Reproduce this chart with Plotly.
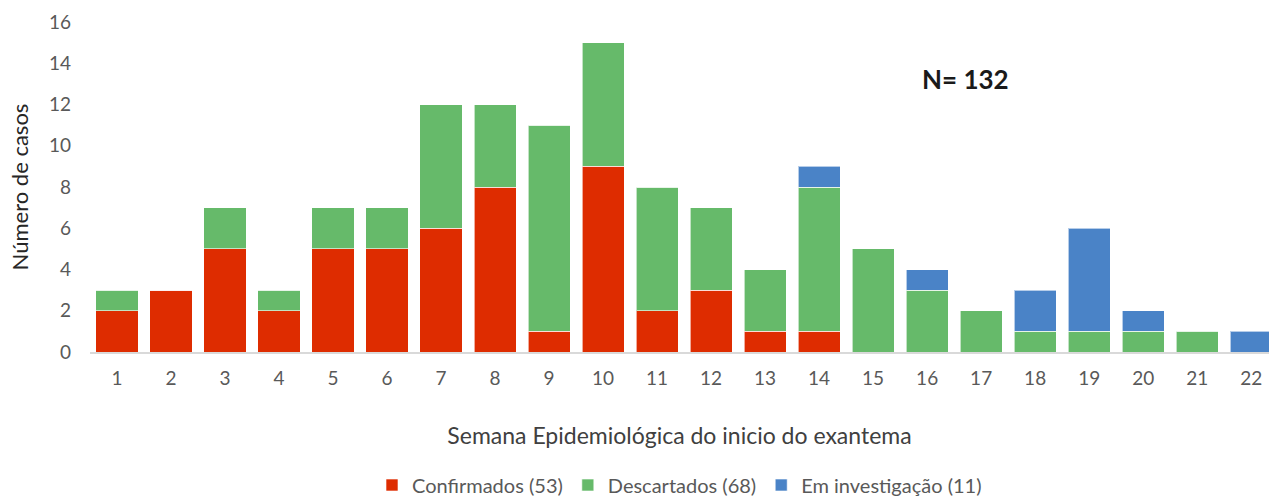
import plotly.graph_objects as go

semanas = [str(i) for i in range(1, 23)]
confirmados = [2, 3, 5, 2, 5, 5, 6, 8, 1, 9, 2, 3, 1, 1, 0, 0, 0, 0, 0, 0, 0, 0]
descartados = [1, 0, 2, 1, 2, 2, 6, 4, 10, 6, 6, 4, 3, 7, 5, 3, 2, 1, 1, 1, 1, 0]
investigacao = [0, 0, 0, 0, 0, 0, 0, 0, 0, 0, 0, 0, 0, 1, 0, 1, 0, 2, 5, 1, 0, 1]
nomes = ["Confirmados (53)", "Descartados (68)", "Em investigação (11)"]
cores = ["#DE2C00", "#66BA6A", "#4A83C7"]

font = "Lato, 'Open Sans', sans-serif"
fig = go.Figure()
for nome, vals, cor in zip(nomes, [confirmados, descartados, investigacao], cores):
    fig.add_trace(go.Bar(x=list(range(1, 23)), y=vals, name=nome, marker_color=cor,
                         marker_line=dict(color="rgba(255,255,255,0.6)", width=1)))

fig.update_layout(
    barmode="stack", bargap=0.22,
    width=1269, height=499,
    margin=dict(l=90, r=0, t=22, b=147, autoexpand=False),
    plot_bgcolor="white", paper_bgcolor="white",
    font=dict(family=font, size=19, color="#595959"),
    xaxis=dict(range=[0.5, 22.33], tickmode="array", tickvals=list(range(1, 23)), ticktext=semanas,
               showline=True, linecolor="#D9D9D9", linewidth=2, ticks="", showgrid=False,
               automargin=False, ticklabelstandoff=8,
               tickfont=dict(size=19, color="#595959"),
               title=dict(text="Semana Epidemiológica do inicio do exantema", font=dict(size=23, color="#404040"), standoff=40)),
    yaxis=dict(range=[0, 16], dtick=2, showgrid=False, zeroline=False, ticks="", automargin=False,
               ticklabelstandoff=18,
               tickfont=dict(size=19, color="#595959"),
               title=dict(text="Número de casos", font=dict(size=22, color="#262626"), standoff=14)),
    legend=dict(orientation="h", x=0.5, xanchor="center", y=(352 - 485) / 330, yanchor="middle",
                traceorder="normal",
                font=dict(size=20, color="#595959"), tracegroupgap=0),
    showlegend=True,
)
fig.add_annotation(text="<b>N= 132</b>", xref="paper", yref="paper", x=(965 - 90) / 1179, y=(352 - 79) / 330,
                   showarrow=False, xanchor="center", yanchor="middle", font=dict(size=26, color="#1a1a1a", family=font))
fig.write_html("out.html", config={"displayModeBar": False},
               post_script="document.body.style.margin='0';document.body.style.overflow='hidden';")
